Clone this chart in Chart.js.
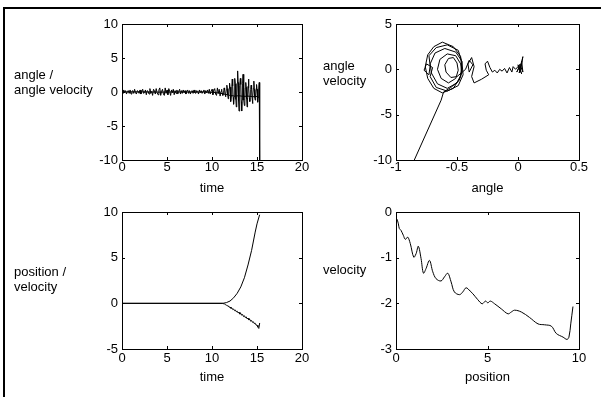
<!DOCTYPE html>
<html>
<head>
<meta charset="utf-8">
<script src="https://cdn.jsdelivr.net/npm/chart.js@4.4.1/dist/chart.umd.min.js"></script>
<style>
body { margin: 0; background: #fff; }
#wrap { position: relative; width: 601px; height: 397px; overflow: hidden; }
#wrap canvas { position: absolute; left: 0; top: 0; }
#frame { position: absolute; left: 3px; top: 7px; width: 700px; height: 500px;
         border-left: 2px solid #000; border-top: 2px solid #000; }
</style>
</head>
<body>
<div id="wrap">
  <div id="frame"></div>
  <canvas id="c_tl" width="601" height="397"></canvas>
  <canvas id="c_tr" width="601" height="397"></canvas>
  <canvas id="c_bl" width="601" height="397"></canvas>
  <canvas id="c_br" width="601" height="397"></canvas>
</div>
<script>
// ---- data ----
// top left: angle velocity, sampled every 0.1 s from 0, then every 0.05 s from 11
var avEarly = [
  0.1,-0.2,0.3,-0.1,0.2,-0.3,0.1,0.2,-0.2,0.3,
  -0.3,0.1,0.2,-0.2,0.4,-0.1,-0.3,0.2,0.1,-0.2,
  0.3,-0.3,0.1,0.4,-0.2,-0.1,0.3,-0.4,0.2,0.1,
  -0.3,0.5,-0.2,0.1,-0.5,0.4,0.2,-0.3,0.5,-0.1,
  -0.4,0.3,0.6,-0.5,0.1,0.4,-0.3,-0.5,0.6,-0.2,
  0.3,-0.4,0.5,0.1,-0.5,0.3,-0.1,0.4,-0.4,0.2,
  -0.2,0.3,-0.3,0.1,0.4,-0.3,0.2,-0.2,0.3,-0.1,
  0.2,-0.3,0.1,0.3,-0.2,0.2,-0.3,0.1,0.2,-0.2,
  0.3,-0.1,-0.2,0.2,0.1,-0.3,0.3,-0.1,0.2,-0.2,
  0.1,0.3,-0.3,0.2,-0.1,0.3,-0.2,0.4,-0.3,0.1,
  0.4,-0.4,0.2,0.5,-0.3,-0.5,0.6,-0.2,0.4,-0.6
];
var avLate = [
  0.1,0.4,0.2,-0.2,-0.5,-0.2,
  0.2,0.6,0.3,-0.3,-0.7,-0.3,
  0.4,1.0,0.5,-0.4,-1.0,-0.5,
  0.5,1.3,0.7,-0.6,-1.4,-0.6,
  0.8,1.9,0.9,-0.8,-1.8,-0.7,
  1.0,2.0,1.2,-1.1,-2.2,-1.0,
  1.3,3.1,1.4,-1.3,-2.8,-1.2,
  1.0,2.0,1.1,-1.4,-2.8,-1.2,
  1.2,2.6,0.9,-1.2,-2.0,-1.0,
  0.6,1.4,0.7,-1.0,-2.2,-0.8,
  0.8,1.9,0.6,-0.9,-1.4,-0.7,
  0.4,1.0,0.4,-0.8,-1.7,-0.6,
  0.6,1.6,0.5,-0.8,-1.2,-0.6,
  0.3,1.1,0.4,-0.7,-1.5,-0.5,
  0.6,1.4,-12
];
var angTime  = [0, 2, 4, 6, 8, 9, 10, 10.5, 11, 11.5, 12, 12.5, 13, 13.5, 14, 14.5, 15, 15.3];
var angValue = [0, 0.02, -0.02, 0.01, -0.01, 0, -0.05, -0.1, -0.2, -0.35, -0.5, -0.6, -0.55, -0.65, -0.6, -0.7, -0.65, -0.85];

// top right: phase plot angle / angle velocity
var phaseAngle = [
  0.00,0.02,0.04,0.03,0.01,0.04,0.02,0.00,0.03,0.01,-0.01,0.02,-0.02,
  -0.04,-0.05,-0.07,-0.09,-0.11,-0.13,-0.15,-0.17,-0.19,-0.21,
  -0.23,-0.25,-0.27,-0.26,-0.24,
  -0.30,-0.36,-0.38,-0.36,-0.38,-0.41,-0.40,-0.37,-0.40,-0.43,
  -0.50,-0.55,-0.59,-0.60,-0.57,-0.53,-0.50,-0.49,
  -0.51,-0.57,-0.63,-0.66,-0.64,-0.58,-0.51,-0.47,-0.46,
  -0.50,-0.58,-0.66,-0.71,-0.72,-0.68,-0.60,-0.51,-0.46,-0.45,
  -0.49,-0.58,-0.67,-0.72,-0.70,-0.75,-0.77,-0.73,-0.72,-0.73,-0.67,-0.58,-0.49,-0.46,-0.47,
  -0.53,-0.62,-0.69,-0.74,-0.76,-0.74,-0.69,-0.62,-0.53,-0.47,-0.46,-0.48,-0.55,-0.61,
  -0.63,-0.86
];
var phaseVel = [
  0.0,0.4,-0.3,0.9,-0.4,1.4,-0.2,0.5,-0.5,0.2,-0.3,0.6,0.0,
  0.3,-0.3,0.2,-0.4,0.1,-0.2,0.0,-0.4,-0.1,-0.3,
  0.2,0.9,0.6,-0.1,-0.6,
  -1.1,-1.5,-0.8,0.3,1.3,0.6,-0.3,0.5,1.0,0.0,
  -0.8,-0.9,-0.3,0.5,1.2,1.3,0.7,-0.1,
  -1.0,-1.5,-1.0,0.0,1.1,1.7,1.5,0.6,-0.4,
  -1.5,-2.1,-1.6,-0.4,0.6,1.8,2.3,1.9,0.9,-0.6,
  -1.8,-2.4,-2.0,-0.8,0.2,0.6,-0.1,-0.6,0.4,1.5,2.4,2.7,2.1,0.8,-0.8,
  -2.1,-2.6,-2.1,-1.0,0.3,1.6,2.5,3.0,2.5,1.4,-0.1,-1.2,-2.0,-2.5,
  -3.4,-10.3
];

// bottom left: position and velocity against time
var posTime  = [0, 11.2, 11.6, 12.0, 12.4, 12.8, 13.2, 13.6, 14.0, 14.4, 14.8, 15.0, 15.29];
var posValue = [0, 0, 0.08, 0.25, 0.6, 1.1, 1.8, 2.8, 4.2, 5.8, 7.8, 8.7, 9.7];
// velocity is 0 until 11.2 s, then sampled every 0.1 s
var velStart = 11.2;
var velValue = [
  0.0,-0.05,-0.06,-0.16,-0.18,-0.28,-0.27,-0.42,-0.40,-0.55,
  -0.50,-0.68,-0.62,-0.80,-0.74,-0.92,-0.86,-1.05,-0.98,-1.18,
  -1.10,-1.30,-1.22,-1.45,-1.36,-1.56,-1.48,-1.70,-1.62,-1.82,
  -1.75,-1.96,-1.88,-2.08,-2.02,-2.22,-2.18,-2.38,-2.40,-2.60,
  -2.75,-2.15
];

// bottom right: velocity against position
var brPos = [0,0.02,0.05,0.13,0.18,0.27,0.40,0.51,0.64,0.78,0.97,1.10,1.22,1.37,1.50,1.64,1.83,2.01,2.19,2.46,
  2.65,2.83,3.01,3.19,3.47,3.65,3.83,4.05,4.20,4.47,4.71,4.89,5.02,5.15,5.39,5.75,6.12,6.30,6.48,6.85,
  7.30,7.76,8.12,8.49,8.76,9.13,9.34,9.45,9.55,9.67];
var brVel = [0,-0.28,-0.16,-0.26,-0.36,-0.40,-0.51,-0.60,-0.55,-0.69,-0.99,-0.91,-0.75,-1.02,-1.34,-1.24,-1.06,-1.31,-1.46,-1.51,
  -1.42,-1.34,-1.53,-1.75,-1.81,-1.75,-1.66,-1.73,-1.79,-1.92,-2.01,-1.95,-1.99,-1.95,-2.01,-2.12,-2.23,-2.19,-2.15,-2.19,
  -2.31,-2.45,-2.47,-2.50,-2.66,-2.74,-2.79,-2.74,-2.45,-2.07];

// tick labels
var timeTicks = [0, 5, 10, 15, 20];
var tlYTicks = [-10, -5, 0, 5, 10];
var trXTicks = [-1, -0.5, 0, 0.5];
var trYTicks = [-10, -5, 0, 5];
var blYTicks = [-5, 0, 5, 10];
var brXTicks = [0, 5, 10];
var brYTicks = [-3, -2, -1, 0];

// ---- helpers ----
function pairs(xs, ys) {
  var out = [];
  for (var i = 0; i < xs.length; i++) out.push({x: xs[i], y: ys[i]});
  return out;
}
function stepped(t0, dt, ys) {
  var out = [];
  for (var i = 0; i < ys.length; i++) out.push({x: t0 + i * dt, y: ys[i]});
  return out;
}

var Y_W = 40, X_H = 36, TICK = 3;

Chart.defaults.font.family = "'Liberation Sans', Arial, Helvetica, sans-serif";
Chart.defaults.font.size = 13;
Chart.defaults.color = '#000';

// axes box with inward ticks on all four sides + horizontal y label
var boxPlugin = {
  id: 'matlabBox',
  afterDatasetsDraw: function(chart, args, opts) {
    var a = chart.chartArea, c = chart.ctx;
    var xs = chart.scales.x, ys = chart.scales.y;
    c.save();
    c.strokeStyle = '#000';
    c.lineWidth = 1;
    c.strokeRect(a.left + 0.5, a.top + 0.5, a.right - a.left, a.bottom - a.top);
    c.beginPath();
    xs.ticks.forEach(function(t) {
      var px = Math.round(xs.getPixelForValue(t.value)) + 0.5;
      c.moveTo(px, a.bottom); c.lineTo(px, a.bottom - TICK);
      c.moveTo(px, a.top); c.lineTo(px, a.top + TICK);
    });
    ys.ticks.forEach(function(t) {
      var py = Math.round(ys.getPixelForValue(t.value)) + 0.5;
      c.moveTo(a.left, py); c.lineTo(a.left + TICK, py);
      c.moveTo(a.right, py); c.lineTo(a.right - TICK, py);
    });
    c.stroke();
    c.fillStyle = '#000';
    c.font = "13px 'Liberation Sans', Arial, sans-serif";
    c.textAlign = 'left';
    c.textBaseline = 'alphabetic';
    for (var i = 0; i < opts.lines.length; i++) {
      c.fillText(opts.lines[i], opts.x, opts.y + i * 15);
    }
    c.restore();
  }
};

function makeChart(id, p) {
  var ctx = document.getElementById(id).getContext('2d');
  return new Chart(ctx, {
    type: 'scatter',
    data: {
      datasets: p.series.map(function(s) {
        return { data: s, showLine: true, borderColor: '#000', borderWidth: 1,
                 pointRadius: 0, tension: p.tension || 0, fill: false };
      })
    },
    options: {
      responsive: false,
      animation: false,
      events: [],
      layout: { padding: { left: p.box[0] - Y_W, top: p.box[1], right: 601 - p.box[2], bottom: 397 - p.box[3] - X_H } },
      plugins: {
        legend: { display: false },
        tooltip: { enabled: false },
        matlabBox: { lines: p.label, x: p.labelX, y: p.labelY }
      },
      scales: {
        x: {
          type: 'linear', min: p.xTicks[0], max: p.xTicks[p.xTicks.length - 1],
          afterBuildTicks: function(s) { s.ticks = p.xTicks.map(function(v) { return {value: v}; }); },
          afterFit: function(s) { s.height = X_H; s.paddingLeft = 0; s.paddingRight = 0; },
          grid: { display: false, drawTicks: false },
          border: { display: false },
          ticks: { padding: p.tickPad, maxRotation: 0, autoSkip: false, callback: function(v) { return String(v); } },
          title: { display: true, text: p.xTitle, padding: 0 }
        },
        y: {
          type: 'linear', min: p.yTicks[0], max: p.yTicks[p.yTicks.length - 1],
          afterBuildTicks: function(s) { s.ticks = p.yTicks.map(function(v) { return {value: v}; }); },
          afterFit: function(s) { s.width = Y_W; s.paddingTop = 0; s.paddingBottom = 0; },
          grid: { display: false, drawTicks: false },
          border: { display: false },
          ticks: { padding: 4, autoSkip: false, callback: function(v) { return String(v); } }
        }
      }
    },
    plugins: [boxPlugin]
  });
}

makeChart('c_tl', {
  box: [122, 24, 302, 160], xTicks: timeTicks, yTicks: tlYTicks, xTitle: 'time', tickPad: 0,
  label: ['angle /', 'angle velocity'], labelX: 14, labelY: 78.5,
  series: [stepped(0, 0.1, avEarly).concat(stepped(11, 0.05, avLate)), pairs(angTime, angValue)]
});
makeChart('c_tr', {
  box: [396, 24, 579, 160], xTicks: trXTicks, yTicks: trYTicks, xTitle: 'angle', tickPad: 0,
  label: ['angle', 'velocity'], labelX: 323, labelY: 70,
  series: [pairs(phaseAngle, phaseVel)]
});
makeChart('c_bl', {
  box: [122, 212, 302, 349], xTicks: timeTicks, yTicks: blYTicks, xTitle: 'time', tickPad: 2,
  label: ['position /', 'velocity'], labelX: 14, labelY: 275.5,
  series: [pairs(posTime, posValue), [{x: 0, y: 0}].concat(stepped(velStart, 0.1, velValue))]
});
makeChart('c_br', {
  box: [396, 212, 579, 349], xTicks: brXTicks, yTicks: brYTicks, xTitle: 'position', tickPad: 2,
  label: ['velocity'], labelX: 323, labelY: 274, tension: 0.35,
  series: [pairs(brPos, brVel)]
});
</script>
</body>
</html>
